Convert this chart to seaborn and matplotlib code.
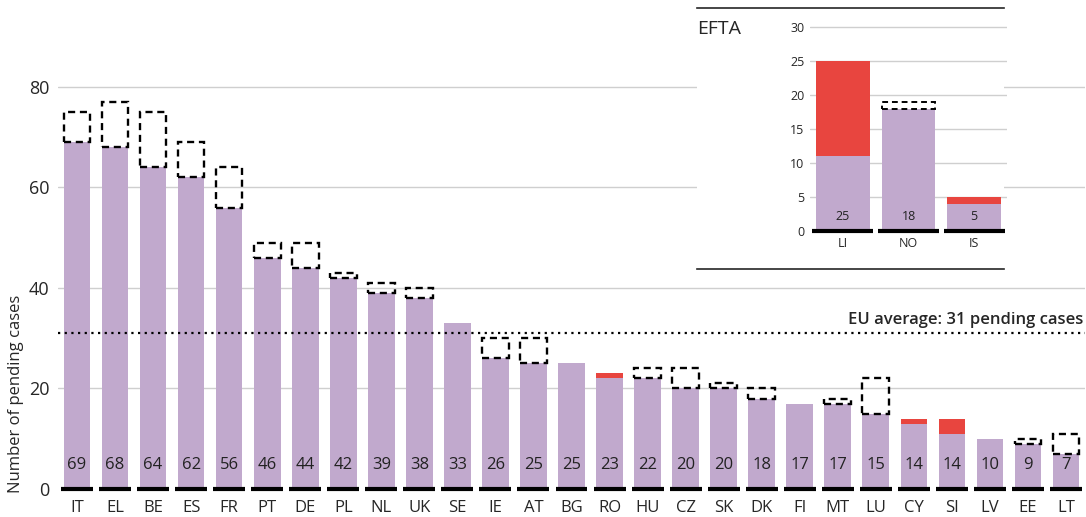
"""Pending infringement cases by member state, with EFTA inset."""

import matplotlib.pyplot as plt
import numpy as np
import pandas as pd
import seaborn as sns

# EU member states
countries = ['IT', 'EL', 'BE', 'ES', 'FR', 'PT', 'DE', 'PL', 'NL', 'UK', 'SE', 'IE', 'AT', 'BG',
             'RO', 'HU', 'CZ', 'SK', 'DK', 'FI', 'MT', 'LU', 'CY', 'SI', 'LV', 'EE', 'LT']
totals = [69, 68, 64, 62, 56, 46, 44, 42, 39, 38, 33, 26, 25, 25,
          23, 22, 20, 20, 18, 17, 17, 15, 14, 14, 10, 9, 7]
red_part = [0, 0, 0, 0, 0, 0, 0, 0, 0, 0, 0, 0, 0, 0,
            1, 0, 0, 0, 0, 0, 0, 0, 1, 3, 0, 0, 0]
previous = [75, 77, 75, 69, 64, 49, 49, 43, 41, 40, 33, 30, 30, 25,
            23, 24, 24, 21, 20, 17, 18, 22, 14, 14, 10, 10, 11]
eu_average = 31

# EFTA states
efta_countries = ['LI', 'NO', 'IS']
efta_totals = [25, 18, 5]
efta_red = [14, 0, 1]
efta_previous = [25, 19, 5]

PURPLE = '#c1a9cd'
RED = '#e8453f'
GRID = '#cfcfcf'


def draw_bars(ax, names, tot, red, prev, width, seg_width, label_y, fs, lw_dash):
    df = pd.DataFrame({'country': names, 'total': tot,
                       'purple': np.array(tot) - np.array(red)})
    sns.barplot(data=df, x='country', y='total', color=RED, saturation=1,
                width=width, linewidth=0, ax=ax, zorder=2)
    sns.barplot(data=df, x='country', y='purple', color=PURPLE, saturation=1,
                width=width, linewidth=0, ax=ax, zorder=3)
    x = np.arange(len(names))
    diff = np.array(prev) - np.array(tot)
    mask = diff > 0
    ax.bar(x[mask], diff[mask], bottom=np.array(tot)[mask], width=width,
           fill=False, edgecolor='black', linestyle=(0, (3, 2)), linewidth=lw_dash, zorder=4)
    ax.hlines(np.zeros(len(x)), x - seg_width / 2, x + seg_width / 2, color='black', lw=3,
              zorder=5, clip_on=False)
    for i, v in enumerate(tot):
        ax.text(i, label_y, str(v), ha='center', va='center', fontsize=fs,
                color='#222222', zorder=6)
    ax.set_xlabel('')
    for s in ax.spines.values():
        s.set_visible(False)
    ax.tick_params(length=0)


def main() -> None:
    sns.set_style('white')
    plt.rcParams['font.family'] = ['Open Sans', 'DejaVu Sans']

    fig = plt.figure(figsize=(10.86, 5.17), dpi=100)

    # main chart
    ax = fig.add_axes([0.0534, 0.0542, 0.9457, 0.8262])
    draw_bars(ax, countries, totals, red_part, previous, 0.7, 0.84, 4.8, 12, 1.7)
    ax.set_xlim(-0.5, 26.5)
    ax.set_ylim(0, 85)
    ax.set_yticks([0, 20, 40, 60, 80])
    for g in [20, 40, 60, 80]:
        ax.axhline(g, color=GRID, lw=1, zorder=0)
    ax.tick_params(axis='y', labelsize=13, pad=6)
    ax.tick_params(axis='x', labelsize=12, pad=8)
    ax.set_ylabel('Number of pending cases', fontsize=12)
    ax.yaxis.set_label_coords(-0.033, 0.222)
    ax.axhline(eu_average, color='black', lw=1.6, linestyle=(0, (1, 2)), zorder=7)
    ax.text(26.45, eu_average + 1, 'EU average: 31 pending cases', ha='right', va='bottom',
            fontsize=12, fontweight='semibold', zorder=7)

    # white panel for the inset
    panel = fig.add_axes([0.6418, 0.4797, 0.2827, 0.5048])
    panel.set_facecolor('white')
    panel.set_xticks([])
    panel.set_yticks([])
    for s in ['left', 'right']:
        panel.spines[s].set_visible(False)
    panel.spines['top'].set_linewidth(1.2)
    panel.spines['bottom'].set_linewidth(1.2)
    panel.text(0.0, 0.955, 'EFTA', transform=panel.transAxes, ha='left', va='top',
               fontsize=14)

    # inset chart
    ins = fig.add_axes([0.7459, 0.5532, 0.1814, 0.4077])
    ins.patch.set_alpha(0)
    draw_bars(ins, efta_countries, efta_totals, efta_red, efta_previous,
              0.82, 0.93, 2.2, 9, 1.4)
    ins.set_xlim(-0.5, 2.5)
    ins.set_ylim(0, 31)
    ins.set_yticks([0, 5, 10, 15, 20, 25, 30])
    for g in [5, 10, 15, 20, 25, 30]:
        ins.axhline(g, color=GRID, lw=1, zorder=0)
    ins.tick_params(axis='y', labelsize=9, pad=4)
    ins.tick_params(axis='x', labelsize=9, pad=4)
    ins.set_ylabel('')

    fig.savefig('out.png', dpi=100)


if __name__ == "__main__":
    main()
